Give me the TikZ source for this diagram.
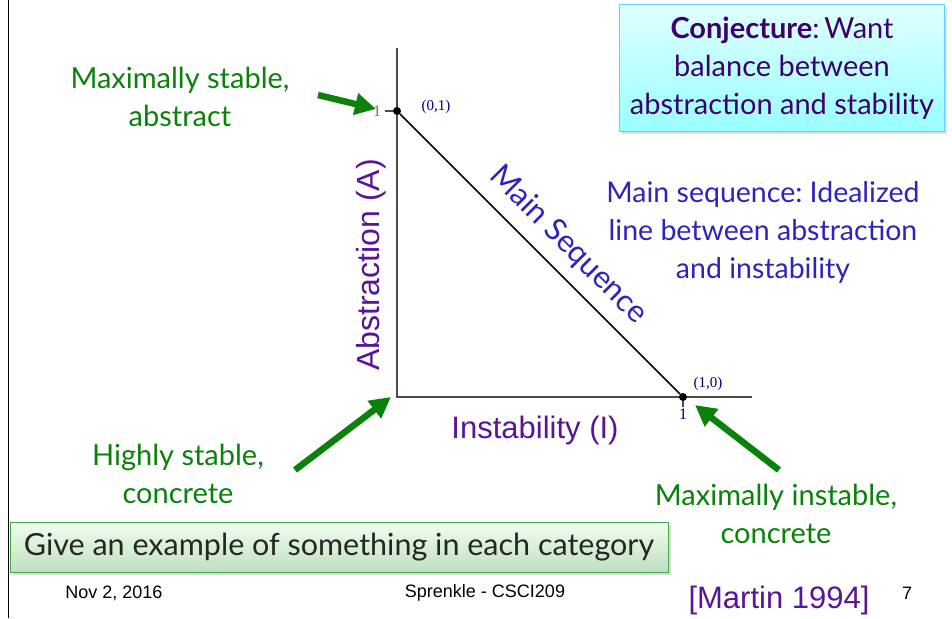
\documentclass[tikz,border=0pt]{standalone}
\usepackage{fontspec}
\setmainfont{Lato}
\newfontfamily\arialfont{Liberation Sans}
\newfontfamily\timesfont{Liberation Serif}
\usetikzlibrary{arrows.meta,positioning,shadows}
\frenchspacing
\definecolor{slidegreen}{RGB}{10,130,10}
\definecolor{axispurple}{RGB}{90,20,150}
\definecolor{seqblue}{RGB}{45,35,190}
\definecolor{conjpurple}{RGB}{62,0,110}
\tikzset{
  callout/.style={font=\fontsize{29}{38}\selectfont, text=slidegreen, align=center},
  pointer/.style={-{Triangle[length=21pt,width=21pt]}, line width=6.5pt, slidegreen},
  axisline/.style={line width=1.3pt, black!70},
  corner/.style={circle, fill=black, inner sep=0pt, minimum size=8pt},
  coordlabel/.style={font=\timesfont\fontsize{15}{16}\selectfont, text=blue!50!black},
  footer/.style={font=\arialfont\fontsize{18}{20}\selectfont}
}
\begin{document}
\begin{tikzpicture}[x=1pt,y=-1pt]
\useasboundingbox (0,0) rectangle (952,618);
\draw[line width=1pt] (8,0) -- (8,618);
% axes
\coordinate (origin) at (397,397);
\draw[axisline] (397,48) -- (origin) -- (752,397);
\node[corner] (top) at (397,111) {};
\node[corner] (right) at (683,397) {};
\draw[line width=1.5pt] (top) -- (right);
\draw[axisline] (top) -- ++(-12,0) node[left=0pt, font=\timesfont\fontsize{16}{16}\selectfont, text=brown!80!black] {1};
\draw[axisline] (right) -- ++(0,10) node[below=-2pt, font=\timesfont\fontsize{16}{16}\selectfont, text=blue!50!black] {1};
\node[coordlabel] at (436,107) {(0,1)};
\node[coordlabel] at (708,384) {(1,0)};
\node[font=\arialfont\fontsize{32}{34}\selectfont, text=axispurple, rotate=90] at (371,265) {Abstraction (A)};
\node[font=\arialfont\fontsize{31}{34}\selectfont, text=axispurple] at (535,430) {Instability (I)};
\node[font=\fontsize{31}{34}\selectfont, text=seqblue, rotate=-45] at (568,245) {Main Sequence};
\node[font=\fontsize{28.5}{38}\selectfont, text=seqblue, align=center] at (763,232)
  {Main sequence: Idealized\\line between abstraction\\and instability};
% conjecture box
\node[draw=cyan!60, line width=1pt, top color=cyan!12, bottom color=cyan!40,
  drop shadow={opacity=0.25}, minimum width=325pt, minimum height=127pt,
  font=\fontsize{29}{38}\selectfont, text=conjpurple, align=center] (conj) at (782,68)
  {\textbf{Conjecture}:\,Want\\balance between\\abstraction and stability};
% callouts
\node[callout] (stable) at (180,97) {Maximally stable,\\abstract};
\node[callout] (concrete) at (178,474) {Highly stable,\\concrete};
\node[callout] (instable) at (776,514) {Maximally instable,\\concrete};
\coordinate (stablefrom) at (318,95);
\coordinate (stableto) at (376,109);
\coordinate (concretefrom) at (295,470);
\coordinate (concreteto) at (391,397);
\coordinate (instablefrom) at (779,470);
\coordinate (instableto) at (695,405);
\draw[pointer] (stablefrom) -- (stableto);
\draw[pointer] (concretefrom) -- (concreteto);
\draw[pointer] (instablefrom) -- (instableto);
% question box
\node[draw=green!50!black!70, line width=1pt, top color=green!6, bottom color=green!50!black!25,
  drop shadow={opacity=0.3}, minimum width=658pt, minimum height=50pt,
  font=\fontsize{30.5}{32}\selectfont, text=black!85] (question) at (339,547)
  {Give an example of something in each category};
% footer
\node[footer] (date) at (114,593) {Nov 2, 2016};
\node[footer] (course) at (485,593) {Sprenkle - CSCI209};
\node[font=\arialfont\fontsize{31}{33}\selectfont, text=axispurple] (cite) at (779,600) {[Martin 1994]};
\node[footer] (page) at (907,593) {7};
\end{tikzpicture}
\end{document}
